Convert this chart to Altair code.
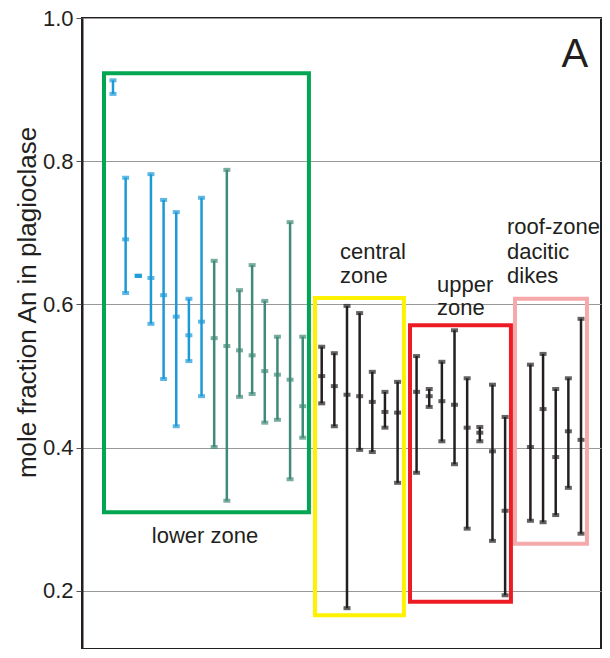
import altair as alt
import pandas as pd

# ---- data ----
sample = [1, 2, 3, 4, 5, 6, 7, 8, 9, 10, 11, 12, 13, 14, 15, 16,
          17.5, 18.5, 19.5, 20.5, 21.5, 22.5, 23.5,
          25, 26, 27, 28, 29, 30, 31, 32,
          34, 35, 36, 37, 38]
group = (["blue"] * 8 + ["teal"] * 8 + ["black"] * 7 + ["black"] * 8 + ["black"] * 5)
high = [0.913, 0.777, 0.640, 0.782, 0.746, 0.729, 0.608, 0.749,
        0.661, 0.788, 0.620, 0.655, 0.605, 0.555, 0.715, 0.555,
        0.541, 0.532, 0.598, 0.588, 0.506, 0.478, 0.492,
        0.528, 0.482, 0.520, 0.564, 0.497, 0.429, 0.488, 0.443,
        0.516, 0.531, 0.482, 0.497, 0.580]
mean = [None, 0.691, 0.640, 0.637, 0.613, 0.583, 0.557, 0.576,
        0.553, 0.542, 0.536, 0.529, 0.507, 0.502, 0.495, 0.458,
        0.500, 0.486, 0.474, 0.472, 0.464, 0.450, 0.449,
        0.478, 0.472, 0.465, 0.460, 0.428, 0.421, 0.395, 0.312,
        0.401, 0.454, 0.387, 0.423, 0.411]
low = [0.894, 0.616, 0.640, 0.573, 0.496, 0.430, 0.521, 0.472,
       0.401, 0.326, 0.471, 0.475, 0.435, 0.439, 0.356, 0.414,
       0.462, 0.430, 0.176, 0.397, 0.394, 0.428, 0.351,
       0.365, 0.457, 0.409, 0.377, 0.287, 0.409, 0.270, 0.194,
       0.298, 0.296, 0.306, 0.344, 0.280]

box_name = ["lower", "central", "upper", "roof"]
box_x1 = [0.29, 16.97, 24.48, 32.78]
box_x2 = [16.49, 24.0, 32.46, 38.47]
box_top = [0.923, 0.609, 0.571, 0.608]
box_bottom = [0.310, 0.166, 0.185, 0.266]

label_text = ["central", "zone", "upper", "zone", "roof-zone", "dacitic", "dikes"]
label_x = [18.94, 18.94, 26.61, 26.61, 32.15, 32.15, 32.15]
label_y = [0.673, 0.640, 0.627, 0.595, 0.708, 0.673, 0.640]

df = pd.DataFrame({"sample": sample, "group": group, "high": high,
                   "mean": mean, "low": low})
boxes = pd.DataFrame({"name": box_name, "x1": box_x1, "x2": box_x2,
                      "top": box_top, "bottom": box_bottom})
labels = pd.DataFrame({"text": label_text, "x": label_x, "y": label_y})
center_labels = pd.DataFrame({"text": ["lower zone"], "x": [8.27], "y": [0.277]})
panel = pd.DataFrame({"text": ["A"], "x": [37.52], "y": [0.948]})

FONT = "Liberation Sans"
xscale = alt.Scale(domain=[-1.45, 39.58], nice=False, zero=False)
yscale = alt.Scale(domain=[0.119, 1.0], nice=False, zero=False)
yaxis = alt.Axis(values=[0.2, 0.4, 0.6, 0.8, 1.0], format=".1f",
                 title="mole fraction An in plagioclase",
                 titleFont=FONT, titleFontSize=26, titleFontWeight="normal",
                 titleColor="#231f20", titleX=-55, titleY=284,
                 titleAlign="center", titleBaseline="middle", titleAngle=270,
                 labelFont=FONT, labelFontSize=22, labelColor="#231f20",
                 labelPadding=3, tickSize=6, tickColor="#555555", tickWidth=1,
                 domainColor="#231f20", domainWidth=2,
                 grid=True, gridColor="#999999", gridWidth=1)

col = alt.Color("group:N", scale=alt.Scale(domain=["blue", "teal", "black"],
                range=["#1b9ad7", "#3f8a78", "#231f20"]), legend=None)

base = alt.Chart(df).encode(x=alt.X("sample:Q", scale=xscale, axis=None), color=col)

rules = base.mark_rule(strokeWidth=2.5).encode(
    y=alt.Y("low:Q", scale=yscale, axis=yaxis), y2="high:Q")
cap_hi = base.mark_tick(orient="horizontal", size=7, thickness=4).encode(
    y=alt.Y("high:Q", scale=yscale))
cap_lo = base.mark_tick(orient="horizontal", size=7, thickness=4).encode(
    y=alt.Y("low:Q", scale=yscale))
cap_mid = base.mark_tick(orient="horizontal", size=7, thickness=4).encode(
    y=alt.Y("mean:Q", scale=yscale)).transform_filter("isValid(datum.mean)")

box_layer = alt.Chart(boxes).mark_rect(filled=False, strokeWidth=4).encode(
    x=alt.X("x1:Q", scale=xscale, axis=None), x2="x2:Q",
    y=alt.Y("top:Q", scale=yscale), y2="bottom:Q",
    color=alt.Color("name:N", scale=alt.Scale(
        domain=["lower", "central", "upper", "roof"],
        range=["#00a651", "#fff200", "#ed1c24", "#f5a9aa"]), legend=None))

text_layer = alt.Chart(labels).mark_text(
    align="left", baseline="middle", font=FONT, fontSize=22, color="#231f20").encode(
    x=alt.X("x:Q", scale=xscale, axis=None), y=alt.Y("y:Q", scale=yscale), text="text:N")

center_layer = alt.Chart(center_labels).mark_text(
    align="center", baseline="middle", font=FONT, fontSize=22, color="#231f20").encode(
    x=alt.X("x:Q", scale=xscale, axis=None), y=alt.Y("y:Q", scale=yscale), text="text:N")

panel_layer = alt.Chart(panel).mark_text(
    align="center", baseline="middle", font=FONT, fontSize=40, color="#231f20").encode(
    x=alt.X("x:Q", scale=xscale, axis=None), y=alt.Y("y:Q", scale=yscale), text="text:N")

chart = alt.layer(box_layer, rules, cap_hi, cap_lo, cap_mid,
                  text_layer, center_layer, panel_layer).resolve_scale(
    color="independent").properties(
    width=519, height=631,
    autosize=alt.AutoSizeParams(type="none"),
    padding={"left": 74, "top": 10, "right": 1, "bottom": 0},
).configure_view(stroke="#231f20", strokeWidth=2)

chart.save("out.html", embed_options={"renderer": "svg", "actions": False})
